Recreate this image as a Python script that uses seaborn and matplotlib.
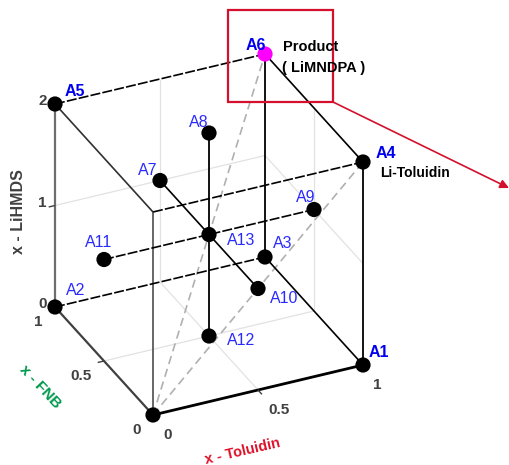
import numpy as np
import pandas as pd
import matplotlib
matplotlib.use("Agg")
import matplotlib.pyplot as plt
import seaborn as sns

# ---- data: design points (x-Toluidin, x-FNB, x-LiHMDS) ----
names = ["", "A1", "A2", "A3", "A4", "A5", "A6", "A7", "A8", "A9", "A10", "A11", "A12", "A13"]
x_tol = [0, 1, 0, 1, 1, 0, 1, 0.5, 0.5, 1, 0.5, 0, 0.5, 0.5]
x_fnb = [0, 0, 1, 1, 0, 1, 1, 1, 0.5, 0.5, 0, 0.5, 0.5, 0.5]
x_li = [0, 0, 0, 0, 2, 2, 2, 1, 2, 1, 1, 1, 0, 1]
kind = ["pt"] * 6 + ["prod"] + ["pt"] * 7

tol_ticks = [0, 0.5, 1]
fnb_ticks = [0, 0.5, 1]
li_ticks = [0, 1, 2]
tol_ticklabels = ["0", "0.5", "1"]
fnb_ticklabels = ["0", "0.5", "1"]
li_ticklabels = ["0", "1", "2"]

# ---- projection of the 3-D cube onto the page ----
O = np.array([153.0, 415.0])
TV = np.array([210.0, -50.0])
FV = np.array([-98.0, -108.0])
LV = np.array([0.0, -101.5])


def proj(t, f, l):
    t = np.asarray(t, float); f = np.asarray(f, float); l = np.asarray(l, float)
    p = O[:, None] + np.outer(TV, np.atleast_1d(t)) + np.outer(FV, np.atleast_1d(f)) + np.outer(LV, np.atleast_1d(l))
    return p[0], p[1]


sns.set_style("white")
plt.rcParams["font.family"] = ["Liberation Sans", "DejaVu Sans"]

fig = plt.figure(figsize=(5.1, 4.65), dpi=100)
ax = fig.add_axes([0, 0, 1, 1])


def seg(a, b, **kw):
    xs, ys = proj([a[0], b[0]], [a[1], b[1]], [a[2], b[2]])
    ax.plot(xs, ys, solid_capstyle="butt", **kw)


tmax, fmax, lmax = 1, 1, 2
grid_kw = dict(color="#e2e2e2", lw=0.9, zorder=1)
# grid lines on back panes
seg((0.5, 0, 0), (0.5, fmax, 0), **grid_kw)
seg((0, 0.5, 0), (tmax, 0.5, 0), **grid_kw)
seg((0, fmax, 1), (tmax, fmax, 1), **grid_kw)
seg((0.5, fmax, 0), (0.5, fmax, lmax), **grid_kw)
seg((tmax, 0, 1), (tmax, fmax, 1), **grid_kw)
seg((tmax, 0.5, 0), (tmax, 0.5, lmax), **grid_kw)

# diagonals
diag_kw = dict(color="#b0b0b0", lw=1.2, dashes=(5, 3), zorder=2)
seg((0, 0, 0), (tmax, fmax, lmax), **diag_kw)
seg((0, 0, 0), (tmax, 0, lmax), **diag_kw)

dash = (6, 1.3)
# cube edges
seg((0, 0, 0), (tmax, 0, 0), color="black", lw=2.0, zorder=3)
seg((0, 0, 0), (0, fmax, 0), color="#404040", lw=1.6, zorder=3)
seg((0, 0, 0), (0, 0, lmax), color="#5a5a5a", lw=1.3, zorder=3)
seg((0, fmax, 0), (0, fmax, lmax), color="#6e6e6e", lw=1.6, zorder=3)
seg((tmax, 0, 0), (tmax, 0, lmax), color="black", lw=1.3, zorder=3)
seg((tmax, fmax, 0), (tmax, fmax, lmax), color="black", lw=1.3, zorder=3)
seg((0, fmax, 0), (tmax, fmax, 0), color="black", lw=1.2, dashes=dash, zorder=3)
seg((tmax, 0, 0), (tmax, fmax, 0), color="black", lw=1.2, zorder=3)
seg((0, 0, lmax), (tmax, 0, lmax), color="black", lw=1.2, dashes=dash, zorder=3)
seg((0, 0, lmax), (0, fmax, lmax), color="#303030", lw=1.2, zorder=3)
seg((0, fmax, lmax), (tmax, fmax, lmax), color="black", lw=1.2, dashes=dash, zorder=3)
seg((tmax, 0, lmax), (tmax, fmax, lmax), color="black", lw=1.2, zorder=3)
# interior lines
seg((0.5, fmax, 1), (0.5, 0, 1), color="black", lw=1.2, zorder=3)
seg((0, 0.5, 1), (tmax, 0.5, 1), color="black", lw=1.2, dashes=dash, zorder=3)
seg((0.5, 0.5, lmax), (0.5, 0.5, 0), color="black", lw=1.3, zorder=3)

# small tick marks
for t in tol_ticks[1:2]:
    seg((t, 0, 0), (t, -0.04, 0), color="#404040", lw=1.0, zorder=3)
for f in fnb_ticks[1:2]:
    seg((0, f, 0), (-0.03, f, 0), color="#404040", lw=1.0, zorder=3)
for l in li_ticks[1:2]:
    seg((0, fmax, l), (-0.03, fmax, l), color="#404040", lw=1.0, zorder=3)

# points
px, py = proj(x_tol, x_fnb, x_li)
df = pd.DataFrame({"name": names, "px": px, "py": py, "kind": kind})
sns.scatterplot(data=df, x="px", y="py", hue="kind",
                palette={"pt": "black", "prod": "#ff00ff"},
                s=120, linewidth=0, legend=False, ax=ax, zorder=5)

# point labels
offsets = {"A1": (16, -13), "A2": (21, -17), "A3": (18, -14), "A4": (23, -9),
           "A5": (20, -12), "A6": (-9, -9), "A7": (-12, -10), "A8": (-10, -11),
           "A9": (-8, -12), "A10": (26, 10), "A11": (-5, -17), "A12": (32, 4),
           "A13": (32, 6)}
bold = {"A1", "A4", "A5", "A6"}
for n, x, y in zip(names, px, py):
    if not n:
        continue
    dx, dy = offsets[n]
    ax.text(x + dx, y + dy, n, ha="center", va="center", fontsize=11.5,
            color="#0000ee" if n in bold else "#2a2aff",
            fontweight="bold" if n in bold else "normal", zorder=6)

# tick labels
tick_color = "#404040"
for l, lab in zip(li_ticks, li_ticklabels):
    x, y = proj(0, fmax, l)
    ax.text(x[0] - 8, y[0] - 3, lab, ha="right", va="center", fontsize=11,
            fontweight="bold", color=tick_color)
for f, lab in zip(fnb_ticks, fnb_ticklabels):
    x, y = proj(0, f, 0)
    ax.text(x[0] - 12, y[0] + 15, lab, ha="right", va="center", fontsize=11,
            fontweight="bold", color=tick_color)
for t, lab in zip(tol_ticks, tol_ticklabels):
    x, y = proj(t, 0, 0)
    ax.text(x[0] + 10, y[0] + 20, lab, ha="left", va="center", fontsize=11,
            fontweight="bold", color=tick_color)

# axis labels
ax.text(19, 212, "x - LiHMDS", rotation=90, ha="center", va="center",
        fontsize=11.5, fontweight="bold", color="#404040")
ax.text(40, 387, "x - FNB", rotation=-47, ha="center", va="center",
        fontsize=11, fontweight="bold", color="#00994d", rotation_mode="anchor")
ax.text(243, 451, "x - Toluidin", rotation=13, ha="center", va="center",
        fontsize=10.5, fontweight="bold", color="#e01028", rotation_mode="anchor")

# annotations
ax.text(283, 47, "Product", ha="left", va="center", fontsize=10.5,
        fontweight="bold", color="black", zorder=6)
ax.text(282, 68, "( LiMNDPA )", ha="left", va="center", fontsize=10.5,
        fontweight="bold", color="black", zorder=6)
ax4x, ax4y = proj(1, 0, 2)
ax.text(ax4x[0] + 17, ax4y[0] + 11, "Li-Toluidin", ha="left", va="center",
        fontsize=10, fontweight="bold", color="black", zorder=6)

red = "#d4102c"
ax.add_patch(plt.Rectangle((228, 10), 105, 92, fill=False, ec=red, lw=1.6, zorder=4))
ax.annotate("", xy=(509, 188), xytext=(333, 102),
            arrowprops=dict(arrowstyle="-|>", color=red, lw=1.2, mutation_scale=13,
                            shrinkA=0, shrinkB=0), zorder=4)

ax.set_xlim(0, 510)
ax.set_ylim(465, 0)
ax.axis("off")
fig.savefig("out.png", dpi=100)
